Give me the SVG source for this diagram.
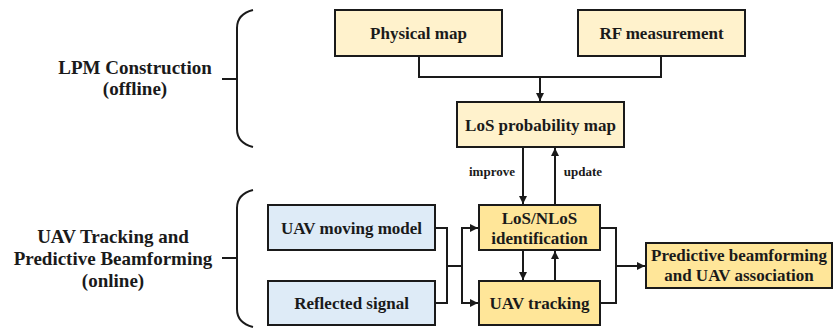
<svg xmlns="http://www.w3.org/2000/svg" width="834" height="329" viewBox="0 0 834 329">
<defs>
<style>
.box{stroke:#1a1a1a;stroke-width:2}
.light{fill:#FFF2CC}
.dark{fill:#FFE699}
.blue{fill:#DEEBF7}
.t{font-family:"Liberation Serif","Times New Roman",serif;font-weight:bold;font-size:17px;fill:#1a1a1a;text-anchor:middle}
.lbl{font-family:"Liberation Serif","Times New Roman",serif;font-weight:bold;font-size:19px;fill:#1a1a1a;text-anchor:middle}
.sm{font-family:"Liberation Serif","Times New Roman",serif;font-weight:bold;font-size:13px;fill:#1a1a1a;text-anchor:middle}
.ln{fill:none;stroke:#1a1a1a;stroke-width:2}
</style>
<marker id="ah" viewBox="0 0 10 10" refX="10" refY="5" markerWidth="4.5" markerHeight="4" orient="auto" markerUnits="strokeWidth">
<path d="M0,0 L10,5 L0,10 z" fill="#1a1a1a"/>
</marker>
</defs>

<g id="label-offline">
<text class="lbl" x="135" y="74">LPM Construction</text>
<text class="lbl" x="135" y="95">(offline)</text>
<path class="ln" d="M222,79 H237 M253,10 Q237,14 237,28 V129 Q237,143 253,147"/>
</g>
<g id="label-online">
<text class="lbl" x="113" y="243">UAV Tracking and</text>
<text class="lbl" x="113" y="265">Predictive Beamforming</text>
<text class="lbl" x="113" y="287">(online)</text>
<path class="ln" d="M222,258 H237 M253,190 Q237,194 237,208 V309 Q237,323 253,327"/>
</g>

<g id="physical-map">
<rect class="box light" x="335" y="10" width="167" height="46"/>
<text class="t" x="418.5" y="39">Physical map</text>
</g>
<g id="rf-measurement">
<rect class="box light" x="578" y="10" width="167" height="46"/>
<text class="t" x="661.5" y="39">RF measurement</text>
</g>
<g id="los-probability-map">
<rect class="box light" x="457" y="102" width="167" height="45"/>
<text class="t" x="540.5" y="131">LoS probability map</text>
</g>
<g id="uav-moving-model">
<rect class="box blue" x="268" y="205" width="167" height="45"/>
<text class="t" x="351.5" y="234">UAV moving model</text>
</g>
<g id="reflected-signal">
<rect class="box blue" x="268" y="281" width="167" height="44"/>
<text class="t" x="351.5" y="309">Reflected signal</text>
</g>
<g id="los-nlos-identification">
<rect class="box dark" x="479" y="205" width="121" height="45"/>
<text class="t" x="539.5" y="224">LoS/NLoS</text>
<text class="t" x="539.5" y="244">identification</text>
</g>
<g id="uav-tracking">
<rect class="box dark" x="479" y="281" width="121" height="44"/>
<text class="t" x="539.5" y="309">UAV tracking</text>
</g>
<g id="predictive-beamforming">
<rect class="box dark" x="646" y="243" width="186" height="45"/>
<text class="t" x="739" y="261">Predictive beamforming</text>
<text class="t" x="739" y="281">and UAV association</text>
</g>

<g id="connectors">
<path class="ln" d="M419,56 V77 H661 V56"/>
<path class="ln" d="M540,77 V101" marker-end="url(#ah)"/>
<path class="ln" d="M523,147 V204" marker-end="url(#ah)"/>
<path class="ln" d="M555,205 V148" marker-end="url(#ah)"/>
<text class="sm" x="492" y="176">improve</text>
<text class="sm" x="583" y="176">update</text>
<path class="ln" d="M435,228 H447 V303 H435 M447,266 H462"/>
<path class="ln" d="M462,228 V303"/>
<path class="ln" d="M461,228 H478" marker-end="url(#ah)"/>
<path class="ln" d="M461,303 H478" marker-end="url(#ah)"/>
<path class="ln" d="M523,250 V280" marker-end="url(#ah)"/>
<path class="ln" d="M555,281 V251" marker-end="url(#ah)"/>
<path class="ln" d="M600,228 H616 V303 H600 M616,266 H645" marker-end="url(#ah)"/>
</g>
</svg>
